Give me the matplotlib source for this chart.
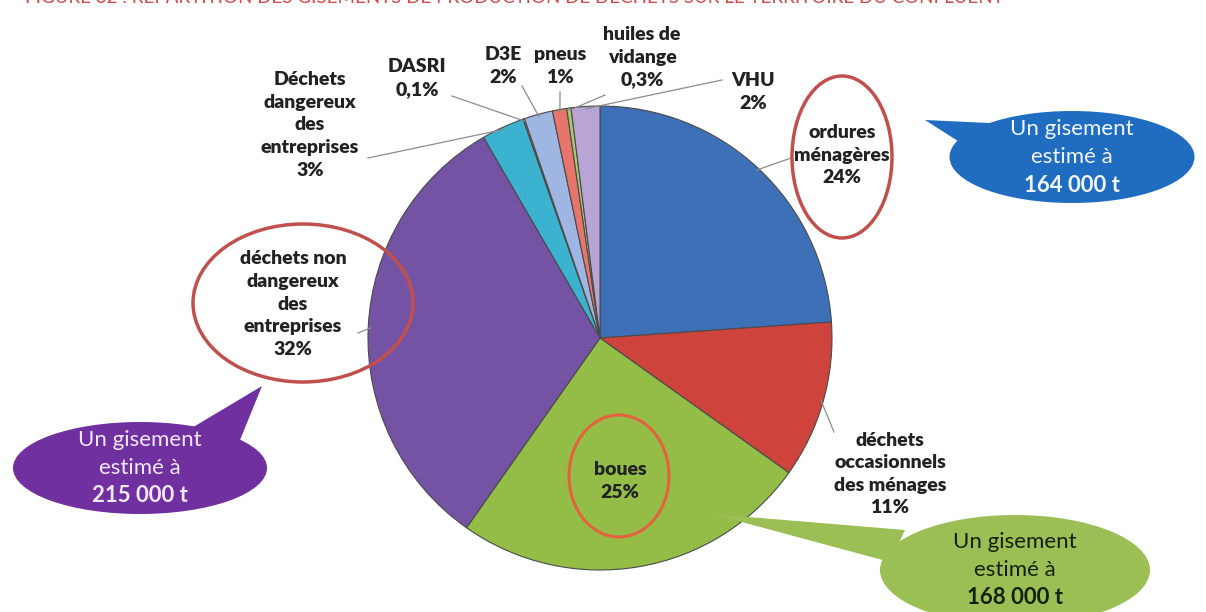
import numpy as np
import matplotlib
matplotlib.use("Agg")
import matplotlib.pyplot as plt
from matplotlib.patches import Ellipse, Polygon

plt.rcParams['font.family'] = ['Lato', 'DejaVu Sans']

# gisements par type de déchets (en %)
categories = ["ordures\nménagères", "déchets\noccasionnels\ndes ménages", "boues",
              "déchets non\ndangereux\ndes\nentreprises", "Déchets\ndangereux\ndes\nentreprises",
              "DASRI", "D3E", "pneus", "huiles de\nvidange", "VHU"]
parts = [24, 11, 25, 32, 3, 0.1, 2, 1, 0.3, 2]
colors = ["#3d70b6", "#cf433d", "#93bd47", "#7553a4", "#3bb2cf",
          "#f79646", "#9fb6e2", "#e8756c", "#a9c96c", "#b8a5d6"]

# bulles "Un gisement estimé à ..."
tonnages = ["164 000 t", "215 000 t", "168 000 t"]


def pct(v):
    if v < 1:
        return ("%.1f%%" % v).replace(".", ",")
    return "%d%%" % round(v)


W, H = 1206, 612
fig = plt.figure(figsize=(W / 100, H / 100), dpi=100)
ax = fig.add_axes([0, 0, 1, 1])

cx, cy, R = 600, 338, 232
wedges, _ = ax.pie(parts, colors=colors, startangle=-90, counterclock=True,
                   center=(cx, cy), radius=R,
                   wedgeprops=dict(edgecolor="#4a4a4a", linewidth=0.8))
ax.set_xlim(0, W)
ax.set_ylim(H, 0)
ax.set_aspect("equal")
ax.axis("off")


def rim(w, k=1.0):
    a = np.deg2rad((w.theta1 + w.theta2) / 2)
    return cx + k * R * np.cos(a), cy + k * R * np.sin(a)


lab = dict(fontsize=14, fontweight="heavy", color="#222222", ha="center",
           va="center", linespacing=1.4)

# position du texte, départ du trait de rappel
label_pos = [
    ((842, 155), (791, 158)),
    ((890, 474), (834, 432)),
    ((620, 481), None),
    ((293, 304), (358, 333)),
    ((310, 125), (368, 158)),
    ((417, 78), (452, 96)),
    ((503, 66), (522, 86)),
    ((560, 66), (560, 92)),
    ((642, 57), (605, 95)),
    ((753, 92), (722, 80)),
]

for i, (w, name, v) in enumerate(zip(wedges, categories, parts)):
    (tx, ty), start = label_pos[i]
    ax.text(tx, ty, name + "\n" + pct(v), **lab, zorder=6)
    if start is not None:
        ex, ey = rim(w, 0.99)
        ax.plot([start[0], ex], [start[1], ey], color="#8c8c8c", lw=0.9, zorder=5)

# cercles rouges autour des étiquettes principales
ax.add_patch(Ellipse((842, 157), 100, 162, fill=False, ec="#c0504d", lw=2.5, zorder=7))
ax.add_patch(Ellipse((303, 303), 220, 158, fill=False, ec="#c0504d", lw=2.5, zorder=7))
ax.add_patch(Ellipse((619, 476), 100, 122, fill=False, ec="#e4623f", lw=2.2, zorder=7))

# bulles
bubbles = [
    ((1072, 157), 245, 92, [(925, 120), (1010, 124), (972, 150)], "#1f6cc0", "#f2f6ff", tonnages[0]),
    ((140, 468), 254, 92, [(262, 386), (185, 432), (240, 440)], "#7030a0", "#f3e9ff", tonnages[1]),
    ((1015, 570), 270, 110, [(712, 514), (905, 530), (890, 562)], "#9bbf55", "#14200a", tonnages[2]),
]
for (bx, by), bw, bh, tail, fc, tc, t in bubbles:
    ax.add_patch(Polygon(tail, closed=True, fc=fc, ec="none", zorder=8))
    ax.add_patch(Ellipse((bx, by), bw, bh, fc=fc, ec="none", zorder=8))
    ax.text(bx, by - 28, "Un gisement", fontsize=16, color=tc, ha="center", va="center", zorder=9)
    ax.text(bx, by, "estimé à", fontsize=16, color=tc, ha="center", va="center", zorder=9)
    ax.text(bx, by + 28, t, fontsize=16, fontweight="bold", color=tc, ha="center", va="center", zorder=9)

ax.text(25, 3, "FIGURE 32 : RÉPARTITION DES GISEMENTS DE PRODUCTION DE DÉCHETS SUR LE TERRITOIRE DU CONFLUENT",
        fontsize=13.5, color="#d04a4a", ha="left", va="baseline", zorder=9)

fig.savefig("out.png", dpi=100)
